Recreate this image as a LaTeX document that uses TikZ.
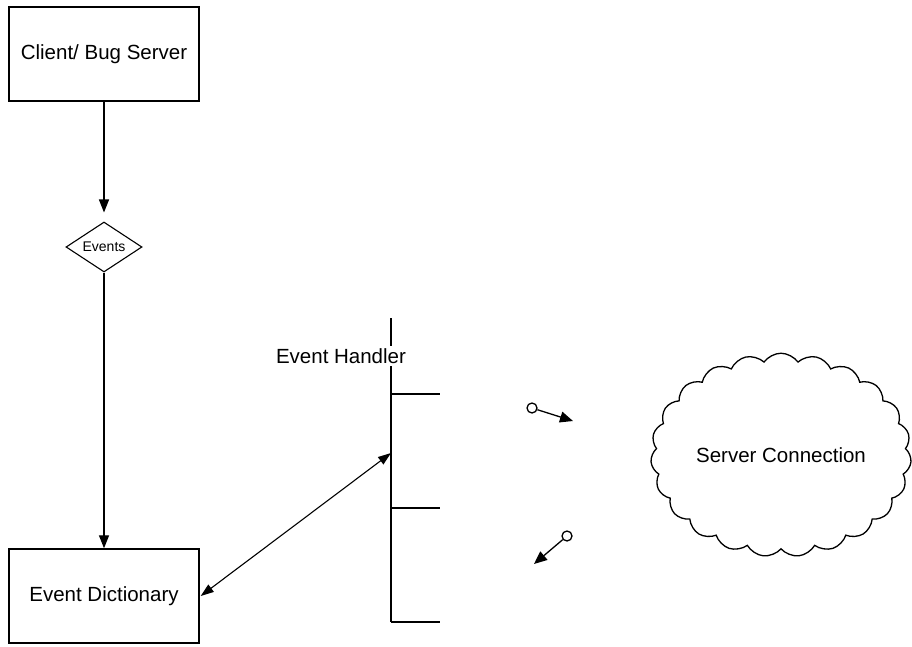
\documentclass[tikz,border=0pt]{standalone}
\usepackage{fontspec}
\setmainfont{Liberation Sans}
\usetikzlibrary{arrows.meta,shapes.geometric,shapes.symbols}
\begin{document}
\begin{tikzpicture}[x=1pt,y=-1pt,
  lbl/.style={font=\fontsize{20.5}{24}\selectfont},
  box/.style={draw,line width=1.4pt,minimum width=190pt,minimum height=94pt,inner sep=0pt,lbl},
  conn/.style={line width=1.3pt,-{Triangle[length=13pt,width=10pt]}},
  thin/.style={line width=1.2pt},
  ring/.style={circle,draw,line width=1.3pt,minimum size=10pt,inner sep=0pt},
  pin/.style={line width=1.3pt,-{Triangle[length=13pt,width=11pt]}}]
\useasboundingbox (0,0) rectangle (912,647);
\node[box] (client) at (104,54) {Client/ Bug Server};
\node[draw,diamond,aspect=1.52,line width=1.1pt,minimum width=76pt,minimum height=50pt,inner sep=0pt,font=\fontsize{14}{16}\selectfont] (events) at (104,247) {Events};
\node[box] (dict) at (104,596) {Event Dictionary};
\coordinate (ehtop) at (391,318);
\coordinate (ehbot) at (391,622);
\coordinate (eh1) at (440,394);
\coordinate (eh2) at (440,508);
\coordinate (eh3) at (440,622);
\coordinate (ehm) at (391,453);
\coordinate (ehl1) at (391,394);
\coordinate (ehl2) at (391,508);
\draw[thin] (ehtop) -- (ehbot);
\draw[thin] (ehl1) -- (eh1);
\draw[thin] (ehl2) -- (eh2);
\draw[thin] (ehbot) -- (eh3);
\node[lbl,fill=white,inner sep=2pt,anchor=center] (ehlabel) at (341,356) {Event Handler};
\draw[conn,shorten >=9pt] (client.south) -- (events.north);
\draw[conn] (events.south) -- (dict.north);
\draw[line width=1.1pt,{Triangle[length=13pt,width=9pt]}-{Triangle[length=13pt,width=9pt]}] (dict.east) ++(1,0) coordinate (dicte) (dicte) -- (ehm);
\node[ring] (c1) at (532,408) {};
\node[ring] (c2) at (567,536) {};
\coordinate (p1e) at (573,421);
\coordinate (p2e) at (534,564);
\draw[pin] (c1) -- (p1e);
\draw[pin] (c2) -- (p2e);
\node[draw,cloud,cloud puffs=23,cloud puff arc=110,aspect=1.33,line width=1.3pt,minimum width=250pt,minimum height=186pt,lbl] (cloud) at (781,455) {Server Connection};
\end{tikzpicture}
\end{document}
